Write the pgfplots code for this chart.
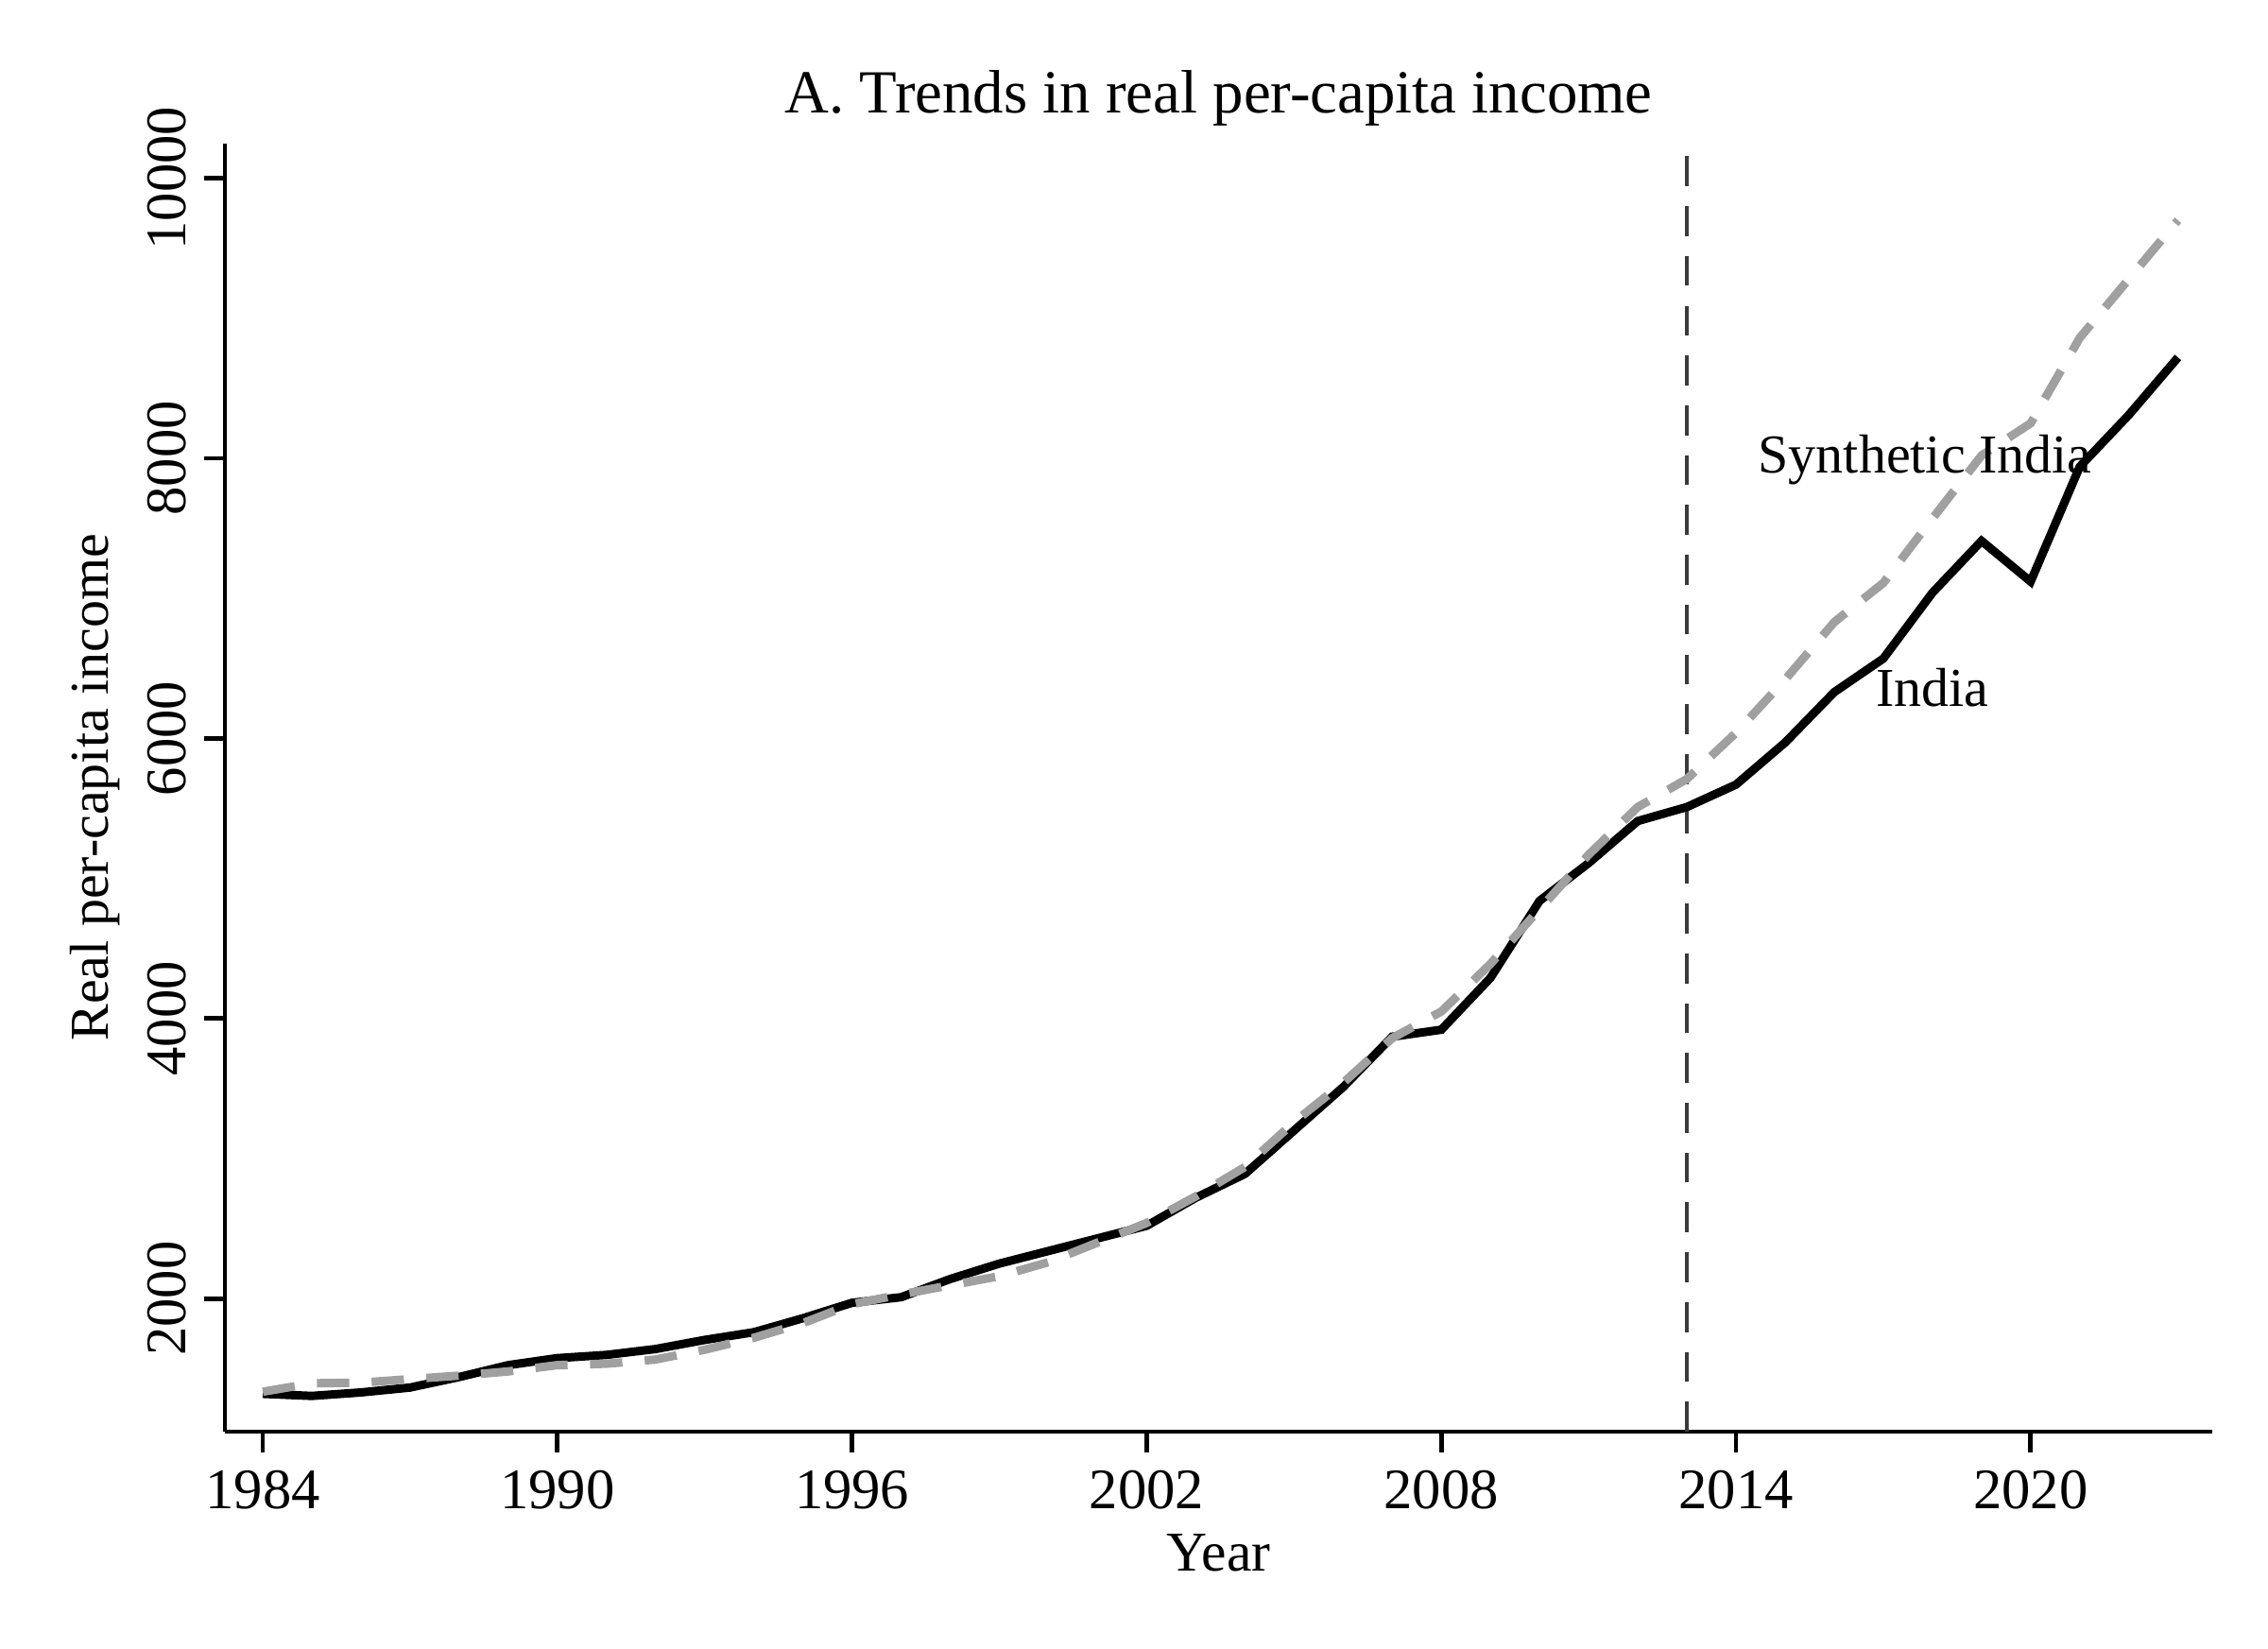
\documentclass[border=0pt]{standalone}
\usepackage{fontspec}
\setmainfont{Liberation Serif}
\usepackage{pgfplots}
\pgfplotsset{compat=1.18}
\usepackage{pgfplotstable}

\definecolor{synthgray}{RGB}{160,160,160}
\definecolor{treatline}{RGB}{58,58,58}

\pgfplotstableread{
year india synth
1984 1320 1335
1985 1305 1395
1986 1330 1400
1987 1365 1425
1988 1440 1450
1989 1525 1480
1990 1575 1525
1991 1598 1535
1992 1640 1565
1993 1705 1635
1994 1760 1720
1995 1860 1825
1996 1970 1960
1997 2010 2030
1998 2140 2095
1999 2250 2160
2000 2340 2260
2001 2430 2400
2002 2520 2540
2003 2720 2730
2004 2890 2940
2005 3200 3260
2006 3510 3540
2007 3870 3860
2008 3920 4050
2009 4290 4390
2010 4840 4780
2011 5110 5170
2012 5410 5510
2013 5510 5710
2014 5670 6040
2015 5970 6420
2016 6330 6830
2017 6570 7110
2018 7040 7570
2019 7410 8020
2020 7120 8250
2021 7940 8860
2022 8310 9280
2023 8720 9700
}\incomedata

\begin{document}
\begin{tikzpicture}
\useasboundingbox (-1.587cm,-1.533cm) rectangle (14.413cm,10.1cm);
\begin{axis}[
  at={(0,0)}, anchor=south west,
  scale only axis, width=14.02cm, height=9.09cm,
  xmin=1983.23, xmax=2023.7, ymin=1050, ymax=10250,
  axis x line*=bottom, axis y line*=left,
  axis line style={line width=0.9pt, -},
  xtick={1984,1990,...,2020}, ytick={2000,4000,...,10000},
  scaled y ticks=false, scaled x ticks=false,
  tick align=outside, major tick length=0.15cm,
  tick style={line width=0.9pt, black},
  /pgf/number format/assume math mode=true,
  /pgf/number format/1000 sep={},
  /pgf/number format/fixed,
  ticklabel style={font=\fontsize{11.5}{13}\selectfont},
  yticklabel style={rotate=90, anchor=south},
  every axis title shift=0pt,
  title={A. Trends in real per-capita income},
  title style={at={(axis description cs:0.5,1.0352)}, anchor=center, font=\fontsize{12.3}{14}\selectfont},
  xlabel={Year},
  xlabel style={at={(axis description cs:0.5,-0.094)}, anchor=center, font=\fontsize{11.3}{13}\selectfont},
  ylabel={Real per-capita income},
  ylabel style={at={(axis description cs:-0.0654,0.5)}, anchor=center, font=\fontsize{11}{13}\selectfont},
]
\addplot[treatline, line width=0.9pt, dash pattern=on 6pt off 4pt] coordinates {(2013,1050) (2013,10250)};
\addplot[black, line width=1.7pt] table[x=year, y=india] {\incomedata};
\addplot[synthgray, line width=1.7pt, dash pattern=on 6.5pt off 4.5pt] table[x=year, y=synth] {\incomedata};
\node[font=\fontsize{11}{13}\selectfont] at (axis cs:2017.85,7990) {Synthetic India};
\node[font=\fontsize{11}{13}\selectfont] at (axis cs:2018,6360) {India};
\end{axis}
\end{tikzpicture}
\end{document}
